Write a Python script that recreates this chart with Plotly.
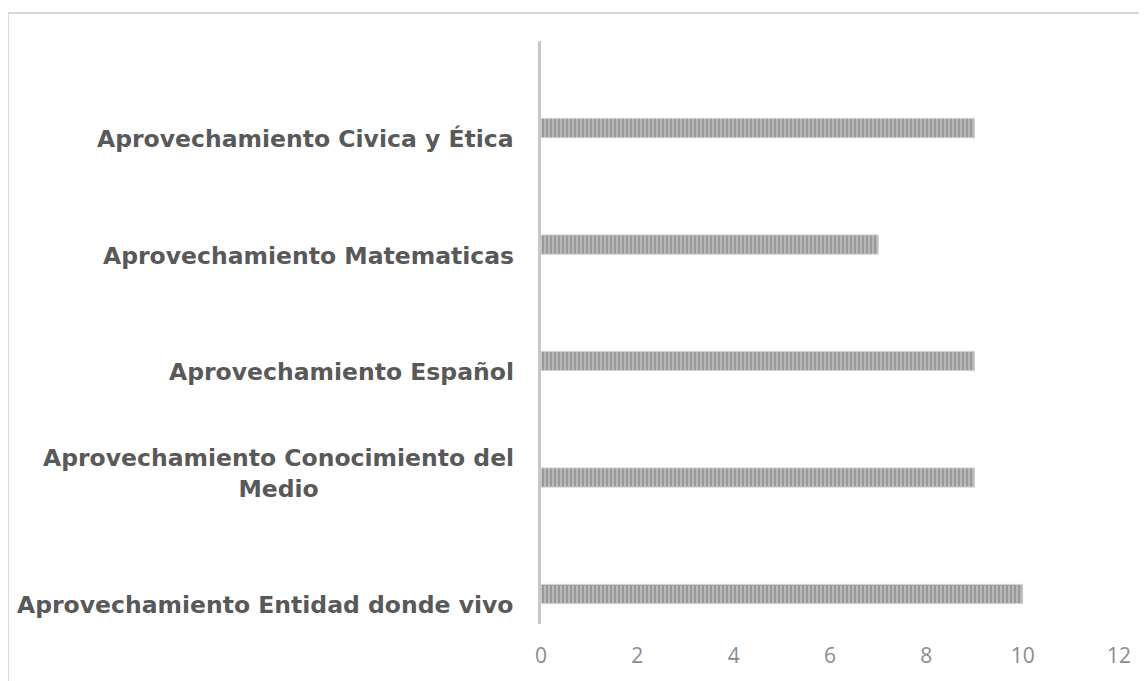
import plotly.graph_objects as go

categories = [
    "Aprovechamiento Entidad donde vivo",
    "Aprovechamiento Conocimiento del<br>Medio",
    "Aprovechamiento Español",
    "Aprovechamiento Matematicas",
    "Aprovechamiento Civica y Ética",
]
values = [10, 9, 9, 7, 9]
x_ticks = [0, 2, 4, 6, 8, 10, 12]

fig = go.Figure()
fig.add_trace(go.Bar(
    x=values,
    y=categories,
    orientation="h",
    width=0.165,
    marker=dict(
        color="#b3b3b3",
        line=dict(color="#d0d0d0", width=1),
        pattern=dict(shape="|", fgcolor="#7a7a7a", bgcolor="#b8b8b8", size=4, solidity=0.5),
    ),
    showlegend=False,
))

# page has ~7px body offset; compensate in margins
W, H = 1147, 681
off = 7
ml, mr, mt, mb = 540 - off, 29 + off, 40 - off, 58 + off
pw, ph = W - ml - mr, H - mt - mb

annotations = []
for c in categories:
    two_line = "<br>" in c
    annotations.append(dict(
        x=0, y=c, xref="x", yref="y",
        text=c, showarrow=False,
        xanchor="right", yanchor="middle",
        xshift=-25, yshift=4 if two_line else -11,
        align="center" if two_line else "right",
        font=dict(family="DejaVu Sans", size=23.5, color="#595959", weight="bold"),
    ))

fig.update_layout(
    width=W, height=H,
    margin=dict(l=ml, r=mr, t=mt, b=mb),
    paper_bgcolor="white",
    plot_bgcolor="white",
    xaxis=dict(
        range=[0, 12],
        tickvals=x_ticks,
        showgrid=False,
        zeroline=False,
        showline=False,
        ticks="",
        ticklabelstandoff=17,
        tickfont=dict(family="Open Sans", size=21, color="#8c8c8c"),
    ),
    yaxis=dict(
        type="category",
        categoryorder="array",
        categoryarray=categories,
        range=[-0.2575, 4.747],
        showgrid=False,
        zeroline=False,
        showline=True,
        linecolor="#c8c8c8",
        linewidth=3,
        ticks="",
        showticklabels=False,
    ),
    annotations=annotations,
    shapes=[dict(
        type="rect", xref="paper", yref="paper",
        x0=(7 - off - ml) / pw, x1=(1152 - ml) / pw,
        y0=(H - mb - 690) / ph, y1=(H - mb - (12 - off)) / ph,
        line=dict(color="#d9d9d9", width=2),
        fillcolor="rgba(0,0,0,0)",
        layer="below",
    )],
)

fig.write_html("out.html")
